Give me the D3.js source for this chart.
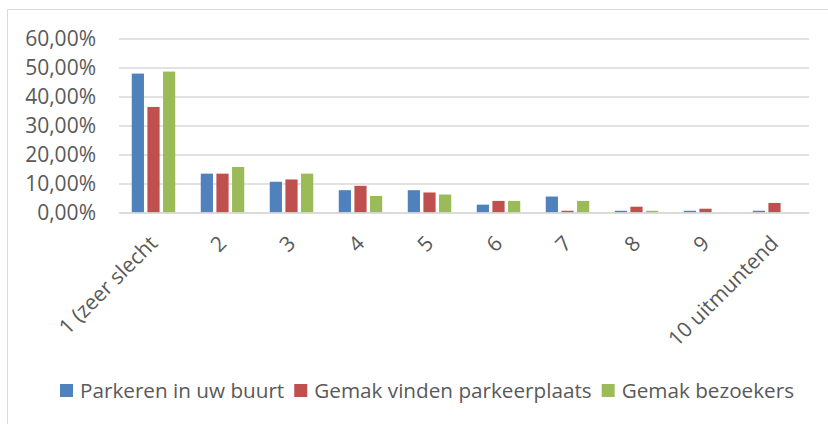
<!DOCTYPE html>
<html><head><meta charset="utf-8">
<script src="https://cdn.jsdelivr.net/npm/d3@7/dist/d3.min.js"></script>
<style>body{margin:0;background:#fff}svg{display:block}</style>
</head><body>
<svg id="c" width="828" height="424"></svg>
<script>
const categories = ["1 (zeer slecht","2","3","4","5","6","7","8","9","10 uitmuntend"];
const seriesNames = ["Parkeren in uw buurt","Gemak vinden parkeerplaats","Gemak bezoekers"];
const parkeren = [0.479,0.134,0.106,0.077,0.077,0.027,0.055,0.006,0.006,0.006];
const gemakVinden = [0.364,0.134,0.114,0.092,0.069,0.040,0.006,0.020,0.013,0.033];
const bezoekers = [0.486,0.157,0.134,0.057,0.062,0.040,0.040,0.006,0,0];
const yTicks = [0,0.1,0.2,0.3,0.4,0.5,0.6];
const colors = ["#4F81BD","#C0504D","#9BBB59"];

const svg = d3.select("#c");
const font = "'Open Sans', sans-serif";
const textColor = "#595959";
const fs = 21;
const legendFs = 20.7;

// frame
svg.append("line").attr("x1",7.5).attr("x2",7.5).attr("y1",9.5).attr("y2",424).attr("stroke","#d9d9d9").attr("stroke-width",1);
svg.append("line").attr("x1",7.5).attr("x2",828).attr("y1",9.5).attr("y2",9.5).attr("stroke","#d9d9d9").attr("stroke-width",1);

const x0 = d3.scaleBand().domain(categories).range([119,809]).paddingInner(0.37).paddingOuter(0.185);
const x1 = d3.scaleBand().domain(seriesNames).range([0,x0.bandwidth()]).paddingInner(0.22);
const y = d3.scaleLinear().domain([0,0.6]).range([212.5,38.5]);

const fmt = d => d3.format(".2f")(d*100).replace(".",",") + "%";

const yAxis = svg.append("g").attr("transform","translate(119,0)")
  .call(d3.axisLeft(y).tickValues(yTicks).tickFormat(fmt).tickSize(-690).tickPadding(23));
yAxis.select(".domain").remove();
yAxis.selectAll(".tick line").attr("stroke","#d9d9d9").attr("stroke-width",1.5);
yAxis.selectAll(".tick text").attr("font-family",font).attr("font-size",fs).attr("fill",textColor);

const data = [parkeren,gemakVinden,bezoekers];
categories.forEach((c,i)=>{
  const g = svg.append("g").attr("transform",`translate(${x0(c)},0)`);
  seriesNames.forEach((s,j)=>{
    const v = data[j][i];
    if (v<=0) return;
    g.append("rect").attr("x",x1(s)).attr("width",x1.bandwidth())
      .attr("y",y(v)).attr("height",y(0)-y(v)).attr("fill",colors[j]);
  });
});

// x axis
const xAxis = svg.append("g").attr("transform","translate(0,212.5)")
  .call(d3.axisBottom(x0).tickSize(0).tickPadding(0));
xAxis.select(".domain").attr("stroke","#d9d9d9").attr("stroke-width",1.5);
xAxis.selectAll(".tick text")
  .attr("font-family",font).attr("font-size",fs).attr("fill",textColor)
  .attr("text-anchor","end").attr("dy","0.35em")
  .attr("transform","translate(0,27) rotate(-45)");

// legend
const legend = svg.append("g").attr("transform","translate(0,391)");
let lx = 60;
seriesNames.forEach((s,j)=>{
  legend.append("rect").attr("x",lx).attr("y",-7).attr("width",13).attr("height",13).attr("fill",colors[j]);
  const t = legend.append("text").attr("x",lx+20).attr("y",0).attr("dy","0.35em")
    .attr("font-family",font).attr("font-size",legendFs).attr("fill",textColor).text(s);
  lx += 20 + t.node().getComputedTextLength() + 10;
});
</script>
</body></html>
